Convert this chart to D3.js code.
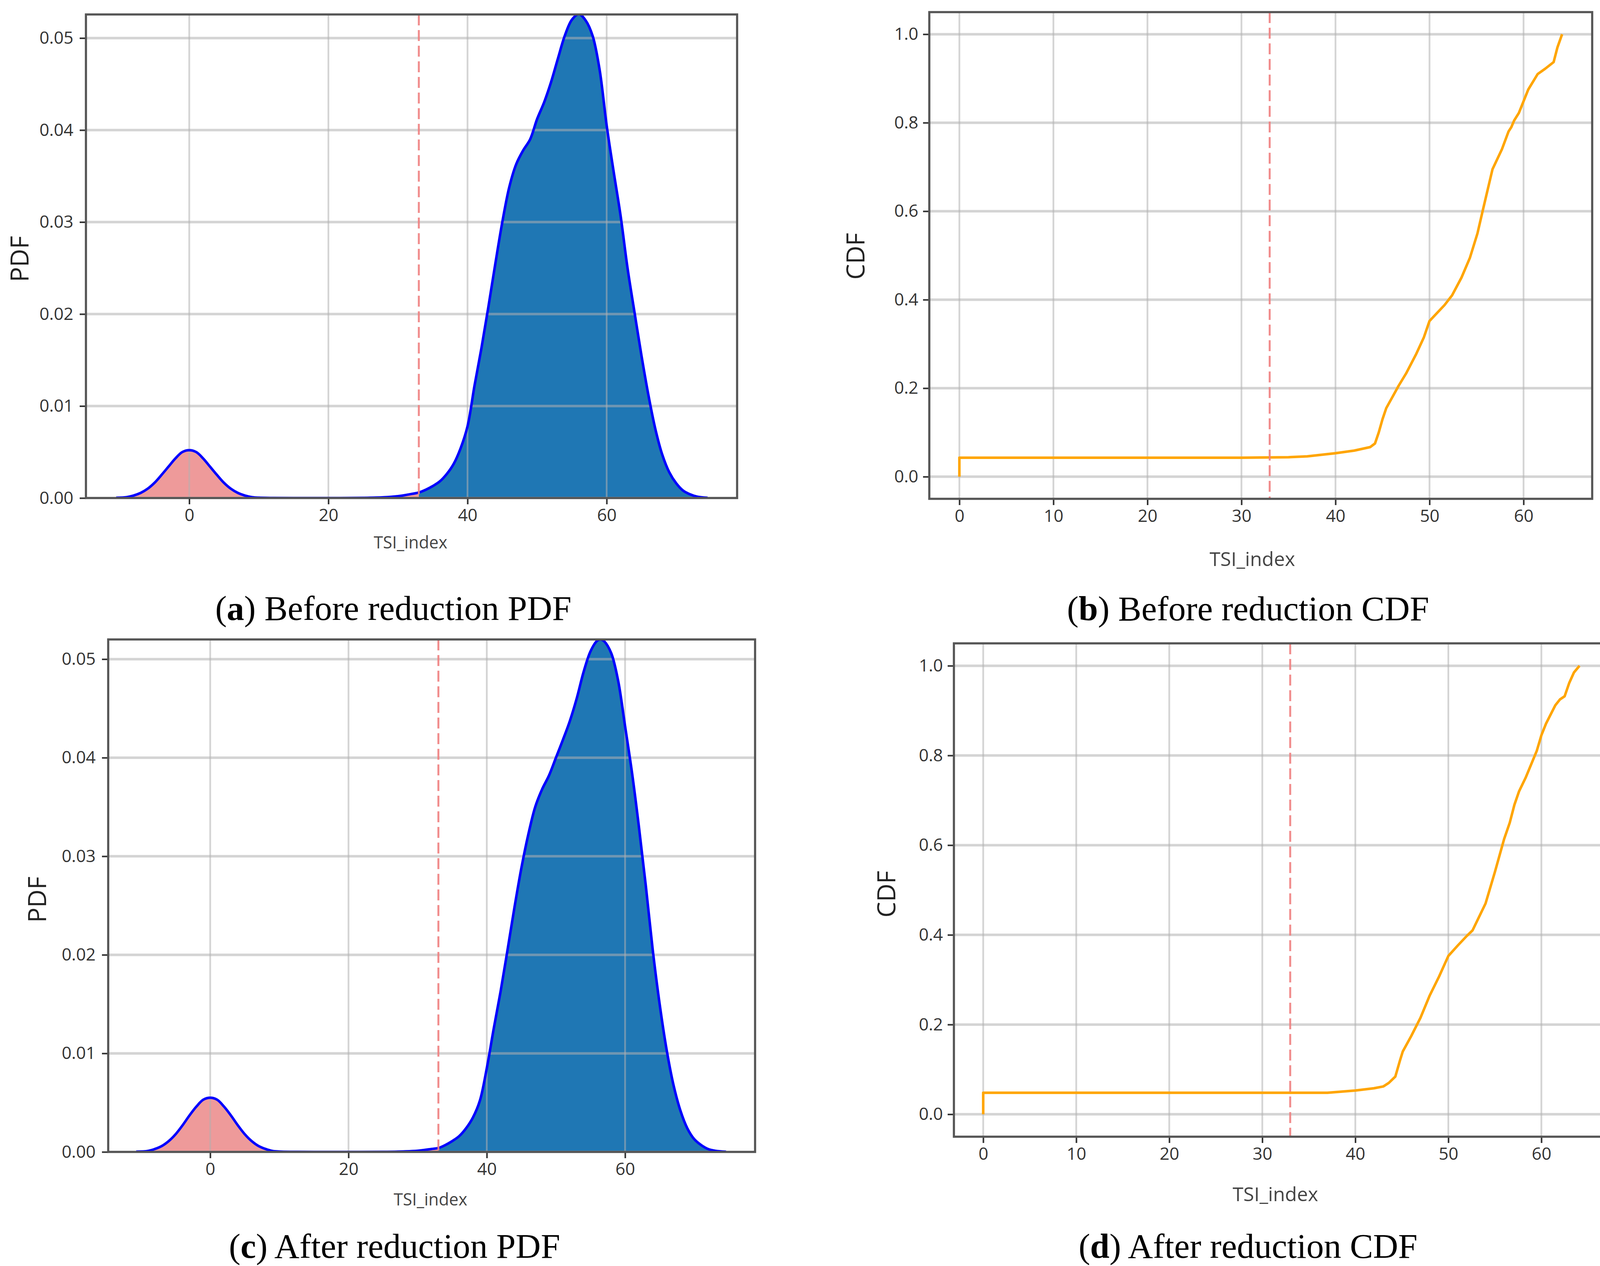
<!DOCTYPE html>
<html>
<head>
<meta charset="utf-8">
<script src="https://cdn.jsdelivr.net/npm/d3@7"></script>
<style>
  html, body { margin: 0; padding: 0; background: #ffffff; }
  svg { display: block; }
</style>
</head>
<body>
<script>
// ---------------- DATA ----------------
const threshold = 33;

// (a) Before reduction PDF (KDE)
const pdfBeforeX = [-10.5,-9,-8,-7,-6,-5,-4,-3,-2,-1,0,1,2,3,4,5,6,7,8,9,10,12,15,20,25,28,30,32,33,34,35,36,37,38,39,40,41,42,43,44,45,46,47,48,49,50,51,52,53,54,55,56,57,58,59,60,61,62,63,64,65,66,67,68,69,70,71,72,73,74.5];
const pdfBeforeY = [0.00003,0.0001,0.00027,0.00055,0.001,0.00165,0.0025,0.0034,0.0043,0.0050,0.0052,0.0050,0.0043,0.0034,0.0025,0.00165,0.001,0.00055,0.00027,0.0001,0.00004,0.00001,0,0,0.00002,0.00008,0.0002,0.00045,0.0006,0.0009,0.0013,0.0018,0.0026,0.0037,0.0054,0.0078,0.0122,0.0163,0.0208,0.0255,0.0300,0.0338,0.0363,0.0378,0.0390,0.0412,0.0430,0.0452,0.0478,0.0503,0.0520,0.0526,0.0519,0.0502,0.0465,0.0405,0.0355,0.0307,0.0250,0.0202,0.0155,0.0112,0.0075,0.0047,0.0028,0.0016,0.0008,0.0004,0.00015,0.00003];

// (c) After reduction PDF
const pdfAfterX = [-10.7,-9,-8,-7,-6,-5,-4,-3,-2,-1,0,1,2,3,4,5,6,7,8,9,10,12,15,20,25,28,30,32,33,34,35,36,37,38,39,40,41,42,43,44,45,46,47,48,49,50,51,52,53,54,55,56,56.5,57,58,59,60,61,62,63,64,65,66,67,68,69,70,71,72,73,74.6];
const pdfAfterY = [0.00003,0.0001,0.0003,0.0006,0.0011,0.0018,0.0027,0.0037,0.0046,0.0053,0.0055,0.0053,0.0046,0.0037,0.0027,0.0018,0.0011,0.0006,0.0003,0.0001,0.00004,0.00001,0,0,0.00001,0.00005,0.00012,0.0003,0.0004,0.0007,0.0011,0.0016,0.0024,0.0035,0.0052,0.0085,0.0125,0.0163,0.0205,0.0248,0.0288,0.0322,0.0350,0.0368,0.0382,0.0400,0.0418,0.0437,0.0460,0.0487,0.0508,0.0519,0.0520,0.0518,0.0506,0.0478,0.0432,0.0385,0.0330,0.0270,0.0205,0.0150,0.0104,0.0068,0.0042,0.0024,0.0013,0.0007,0.0003,0.00012,0.00002];

// (b) Before reduction CDF
const cdfBeforeX = [0,0,30,35,37,40,42,43.7,44.2,44.6,45,45.4,46,46.7,47.5,48.6,49.4,50,50.8,51.6,52.4,53.4,54.3,55.1,55.7,56.2,56.7,57.7,58.4,58.7,59,59.5,60.5,61.5,62.3,63.2,63.6,64.1];
const cdfBeforeY = [0,0.043,0.043,0.044,0.046,0.053,0.059,0.067,0.075,0.1,0.13,0.155,0.178,0.205,0.233,0.278,0.315,0.352,0.37,0.388,0.41,0.45,0.495,0.55,0.605,0.65,0.695,0.74,0.78,0.79,0.805,0.822,0.875,0.91,0.922,0.937,0.97,1.0];

// (d) After reduction CDF
const cdfAfterX = [0,0,37,40,42,43,43.6,44.3,44.8,45.1,46,47,48,49,50,51,52,52.6,53.3,54,55,56,56.6,57.1,57.6,58.3,58.9,59.5,60,60.5,61.5,62,62.5,63,63.5,64.1];
const cdfAfterY = [0,0.048,0.048,0.053,0.058,0.062,0.07,0.084,0.12,0.14,0.174,0.215,0.265,0.307,0.353,0.376,0.398,0.41,0.44,0.47,0.54,0.614,0.65,0.69,0.72,0.75,0.78,0.81,0.845,0.871,0.912,0.925,0.932,0.962,0.985,1.0];

// tick labels
const pdfXTicks = [0, 20, 40, 60];
const pdfYTicks = [0.00, 0.01, 0.02, 0.03, 0.04, 0.05];
const cdfXTicks = [0, 10, 20, 30, 40, 50, 60];
const cdfYTicks = [0.0, 0.2, 0.4, 0.6, 0.8, 1.0];

const captions = [
  {letter: "a", text: " Before reduction PDF"},
  {letter: "b", text: " Before reduction CDF"},
  {letter: "c", text: " After reduction PDF"},
  {letter: "d", text: " After reduction CDF"}
];

// ---------------- DRAW ----------------
const W = 4135, H = 3241;
const svg = d3.select("body").append("svg")
  .attr("width", W).attr("height", H)
  .attr("viewBox", `0 0 ${W} ${H}`);
svg.append("rect").attr("width", W).attr("height", H).attr("fill", "#ffffff");

const FONT = "'Open Sans', 'Noto Sans', 'DejaVu Sans', sans-serif";
const zip = (xs, ys) => xs.map((v, i) => [v, ys[i]]);

function panel(p, idx) {
  const x = d3.scaleLinear().domain(p.xd).range([p.l, p.r]);
  const y = d3.scaleLinear().domain(p.yd).range([p.b, p.t]);
  const g = svg.append("g");
  const clipId = "clip" + idx;
  svg.append("defs").append("clipPath").attr("id", clipId)
    .append("rect").attr("x", p.l).attr("y", p.t).attr("width", p.r - p.l).attr("height", p.b - p.t);

  const plot = g.append("g").attr("clip-path", `url(#${clipId})`);
  const smooth = d3.curveCatmullRom.alpha(0.5);

  if (p.type === "pdf") {
    const pts = zip(p.xs, p.ys);
    const area = d3.area().x(d => x(d[0])).y0(y(0)).y1(d => y(Math.max(0, d[1]))).curve(smooth);
    plot.append("path").datum(pts.filter(d => d[0] <= threshold))
      .attr("d", area).attr("fill", "#ee9a9a");
    plot.append("path").datum(pts.filter(d => d[0] >= threshold))
      .attr("d", area).attr("fill", "#1f77b4");
  }

  // grid
  const grid = plot.append("g").attr("stroke", "#b0b0b0").attr("stroke-opacity", 0.55);
  grid.selectAll("line.v").data(p.xt).join("line").attr("class", "v")
    .attr("x1", d => x(d)).attr("x2", d => x(d)).attr("y1", p.t).attr("y2", p.b)
    .attr("stroke-width", 4.5);
  grid.selectAll("line.h").data(p.yt).join("line").attr("class", "h")
    .attr("x1", p.l).attr("x2", p.r).attr("y1", d => y(d)).attr("y2", d => y(d))
    .attr("stroke-width", 6.5);

  // curves
  if (p.type === "pdf") {
    const line = d3.line().x(d => x(d[0])).y(d => y(d[1])).curve(smooth);
    plot.append("path").datum(zip(p.xs, p.ys)).attr("d", line)
      .attr("fill", "none").attr("stroke", "#0000ff").attr("stroke-width", 6.5)
      .attr("stroke-linejoin", "round");
  } else {
    const line = d3.line().x(d => x(d[0])).y(d => y(d[1]));
    plot.append("path").datum(zip(p.xs, p.ys)).attr("d", line)
      .attr("fill", "none").attr("stroke", "#ffa500").attr("stroke-width", 6.5)
      .attr("stroke-linejoin", "round");
  }

  // threshold line
  plot.append("line")
    .attr("x1", x(threshold)).attr("x2", x(threshold)).attr("y1", p.t).attr("y2", p.b)
    .attr("stroke", "#f08080").attr("stroke-opacity", 0.9).attr("stroke-width", 5)
    .attr("stroke-dasharray", "28,12");

  // axes
  const ax = g.append("g").attr("transform", `translate(0,${p.b})`)
    .call(d3.axisBottom(x).tickValues(p.xt).tickFormat(d3.format("d")).tickSize(16).tickPadding(12));
  const ay = g.append("g").attr("transform", `translate(${p.l},0)`)
    .call(d3.axisLeft(y).tickValues(p.yt).tickFormat(d3.format(p.yfmt)).tickSize(16).tickPadding(p.ypad));
  [ax, ay].forEach(a => {
    a.select(".domain").remove();
    a.selectAll(".tick line").attr("stroke", "#333").attr("stroke-width", 4);
    a.selectAll(".tick text").attr("fill", "#333").style("font-family", FONT).style("font-size", p.tickFs + "px");
  });

  // frame
  g.append("rect").attr("x", p.l).attr("y", p.t).attr("width", p.r - p.l).attr("height", p.b - p.t)
    .attr("fill", "none").attr("stroke", "#555").attr("stroke-width", 5.5);

  // axis labels
  g.append("text").attr("transform", `translate(${p.ylx},${p.yly}) rotate(-90)`)
    .attr("text-anchor", "middle").attr("dy", "0.35em")
    .style("font-family", FONT).style("font-size", p.ylFs + "px").attr("fill", "#222")
    .text(p.ylabel);
  g.append("text").attr("x", p.xlx).attr("y", p.xly)
    .attr("text-anchor", "middle").attr("dy", "0.35em")
    .style("font-family", FONT).style("font-size", p.xlFs + "px").attr("fill", "#444")
    .text("TSI_index");

  // caption
  const c = captions[idx];
  const t = g.append("text").attr("x", p.capx).attr("y", p.capy)
    .attr("text-anchor", "middle").attr("dy", "0.33em")
    .style("font-family", "'Liberation Serif', 'Times New Roman', serif")
    .style("font-size", "89px").attr("fill", "#000");
  t.append("tspan").text("(");
  t.append("tspan").attr("font-weight", "bold").text(c.letter);
  t.append("tspan").text(")" + c.text);
}

const panels = [
  { type: "pdf", xs: pdfBeforeX, ys: pdfBeforeY, l: 220, r: 1887, t: 37, b: 1275,
    xd: [-14.85, 78.75], yd: [0, 0.05257], xt: pdfXTicks, yt: pdfYTicks, yfmt: ".2f", ypad: 16,
    tickFs: 44, ylabel: "PDF", ylx: 51, yly: 663, ylFs: 64, xlx: 1051, xly: 1389, xlFs: 43,
    capx: 1007, capy: 1558 },
  { type: "cdf", xs: cdfBeforeX, ys: cdfBeforeY, l: 2379, r: 4076, t: 31, b: 1277,
    xd: [-3.2, 67.3], yd: [-0.05, 1.05], xt: cdfXTicks, yt: cdfYTicks, yfmt: ".1f", ypad: 12,
    tickFs: 44, ylabel: "CDF", ylx: 2191, yly: 656, ylFs: 64, xlx: 3206, xly: 1431, xlFs: 50,
    capx: 3195, capy: 1559 },
  { type: "pdf", xs: pdfAfterX, ys: pdfAfterY, l: 277, r: 1933, t: 1637, b: 2949,
    xd: [-14.75, 78.8], yd: [0, 0.0520], xt: pdfXTicks, yt: pdfYTicks, yfmt: ".2f", ypad: 16,
    tickFs: 44, ylabel: "PDF", ylx: 96, yly: 2303, ylFs: 64, xlx: 1102, xly: 3071, xlFs: 43,
    capx: 1010, capy: 3191 },
  { type: "cdf", xs: cdfAfterX, ys: cdfAfterY, l: 2442, r: 4115, t: 1647, b: 2910,
    xd: [-3.15, 67.1], yd: [-0.05, 1.05], xt: cdfXTicks, yt: cdfYTicks, yfmt: ".1f", ypad: 12,
    tickFs: 44, ylabel: "CDF", ylx: 2270, yly: 2289, ylFs: 64, xlx: 3265, xly: 3057, xlFs: 50,
    capx: 3195, capy: 3191 }
];

panels.forEach((p, i) => panel(p, i));
</script>
</body>
</html>
